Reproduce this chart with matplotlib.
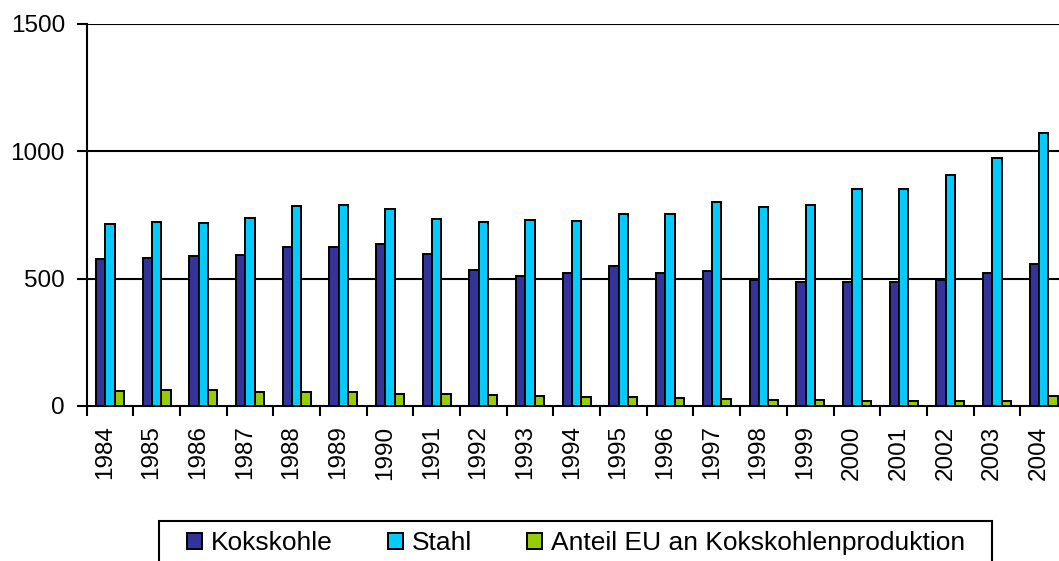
import matplotlib
matplotlib.use("Agg")
import matplotlib.pyplot as plt
from matplotlib.patches import Rectangle
from matplotlib.transforms import ScaledTranslation
import numpy as np

years = [str(y) for y in range(1984, 2005)]
kokskohle = [575, 582, 590, 592, 625, 625, 635, 597, 532, 511, 523, 549, 520, 529, 494, 486, 485, 488, 493, 523, 557]
stahl = [714, 720, 716, 736, 783, 790, 771, 735, 722, 729, 725, 754, 753, 800, 779, 790, 850, 852, 905, 971, 1069]
anteil_eu = [59, 61, 62, 56, 54, 53, 48, 46, 45, 39, 34, 34, 31, 29, 25, 24, 19, 18, 18, 18, 40]

series_names = ["Kokskohle", "Stahl", "Anteil EU an Kokskohlenproduktion"]
colors = ["#333399", "#00CCFF", "#99CC00"]

plt.rcParams['font.family'] = ['Liberation Sans', 'DejaVu Sans']

W, H = 1059, 561
fig = plt.figure(figsize=(W / 100, H / 100), dpi=100)
left_px, right_px, top_px, bottom_px = 86.5, 1067.0, 23.5, 406.0
ax = fig.add_axes([left_px / W, 1 - bottom_px / H, (right_px - left_px) / W, (bottom_px - top_px) / H])

x = np.arange(len(years))
bw = 0.2
for i, (vals, name, c) in enumerate(zip([kokskohle, stahl, anteil_eu], series_names, colors)):
    ax.bar(x + (i - 1) * bw, vals, width=bw, color=c, edgecolor='black', linewidth=1.4, label=name, zorder=3)

ax.set_xlim(-0.5, len(years) - 0.5)
ax.set_ylim(0, 1500)
ax.set_yticks([0, 500, 1000, 1500])
ax.set_yticklabels(["0", "500", "1000", "1500"], fontsize=17.5)
for yv in [500, 1000, 1500]:
    ax.axhline(yv, color='black', linewidth=1.5, zorder=1)

ax.set_xticks(np.arange(len(years) + 1) - 0.5)
ax.set_xticklabels([])
ax.set_xticks(x, minor=True)
ax.set_xticklabels(years, minor=True, rotation=90, fontsize=17.5)
ax.tick_params(axis='x', which='major', direction='out', length=7, width=1.5)
ax.tick_params(axis='x', which='minor', length=0, pad=14)
ax.tick_params(axis='y', direction='out', length=7, width=1.5, pad=8.5)
shift = ScaledTranslation(-5 / 100, 0, fig.dpi_scale_trans)
for lbl in ax.get_xticklabels(minor=True):
    lbl.set_transform(lbl.get_transform() + shift)

for s in ['top', 'right']:
    ax.spines[s].set_visible(False)
ax.spines['left'].set_linewidth(1.5)
ax.spines['bottom'].set_linewidth(1.5)

leg = fig.legend(loc='center left', bbox_to_anchor=(187 / W, 1 - 543 / H), ncol=3, fontsize=19,
                 frameon=False, handlelength=0.57, handleheight=0.57,
                 handletextpad=0.33, columnspacing=2.1, borderpad=0, borderaxespad=0)
fig.patches.append(Rectangle((159 / W, -0.05), (992 - 159) / W, 0.05 + (1 - 520.7 / H),
                             transform=fig.transFigure, fill=False, edgecolor='black',
                             linewidth=1.5, clip_on=False))

fig.savefig("out.png", dpi=100)
